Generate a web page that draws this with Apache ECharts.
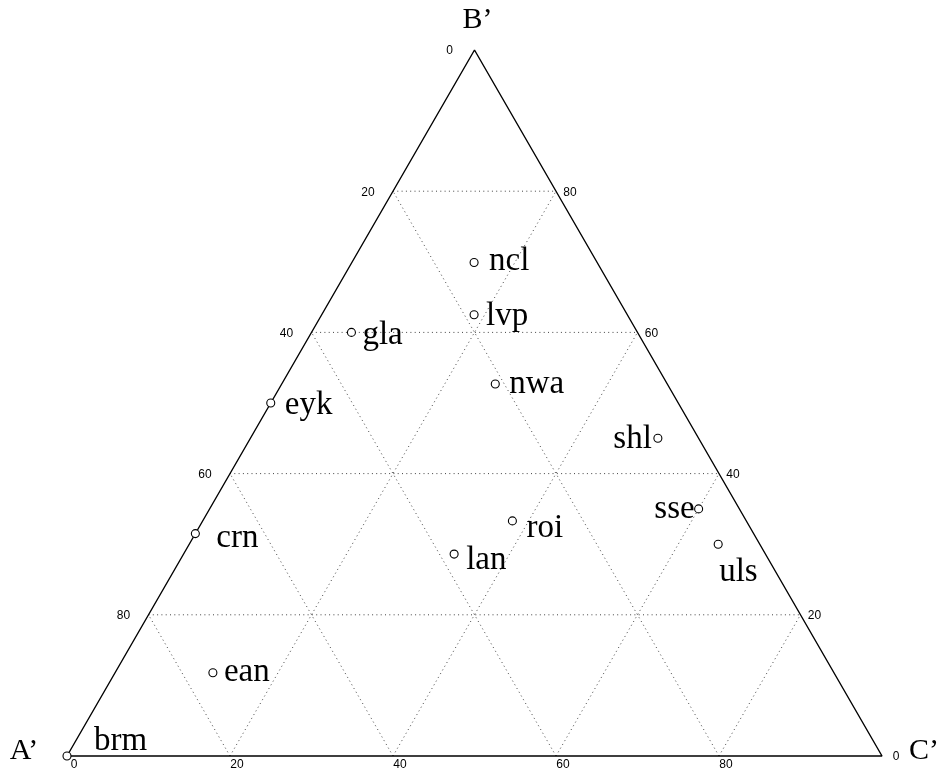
<!DOCTYPE html>
<html>
<head>
<meta charset="utf-8">
<script src="https://cdn.jsdelivr.net/npm/echarts@6/dist/echarts.min.js"></script>
<style>
  html, body { margin: 0; padding: 0; background: #fff; }
  #chart { width: 944px; height: 773px; }
</style>
</head>
<body>
<div id="chart"></div>
<script>
var sites = ['ncl', 'lvp', 'gla', 'nwa', 'eyk', 'shl', 'sse', 'roi', 'crn', 'uls', 'lan', 'ean', 'brm'];
var partA = [15.1, 18.8, 35.1, 21.1, 50.0, 5.0, 5.0, 28.7, 68.5, 5.1, 38.2, 76.2, 100];
var partB = [69.9, 62.5, 60.0, 52.7, 50.0, 45.0, 35.0, 33.3, 31.5, 30.0, 28.6, 11.8, 0];
var partC = [15.0, 18.7, 4.9, 26.2, 0.0, 50.0, 60.0, 38.0, 0.0, 64.9, 33.2, 12.0, 0];

var vertexNames = ['A\u2019', 'B\u2019', 'C\u2019'];
var tickValues = [0, 20, 40, 60, 80];
var gridLevels = [20, 40, 60, 80];

// ternary -> plane, A' bottom left, C' bottom right, B' top
function toXY(a, b, c) {
  var s = a + b + c;
  return [(c + b / 2) / s, b / s];
}

// where each site label sits, relative to its point
var labelPlace = {
  ncl: ['left', 15, -1],
  lvp: ['left', 12, 2],
  gla: ['left', 11, 3],
  nwa: ['left', 14, 0],
  eyk: ['left', 14, 2],
  shl: ['right', -6, 1],
  sse: ['right', -4, 0],
  roi: ['left', 14, 7],
  crn: ['left', 21, 5],
  uls: ['left', 1, 28],
  lan: ['left', 12, 6],
  ean: ['left', 11, 0],
  brm: ['left', 27, -15]
};

var serif = '"Liberation Serif", "DejaVu Serif", serif';
var sans = '"Liberation Sans", Arial, sans-serif';

var series = [];

// dotted grid
gridLevels.forEach(function (g) {
  var v = g / 100;
  var segs = [
    [toXY(1 - v, v, 0), toXY(0, v, 1 - v)],   // constant B
    [toXY(1 - v, 0, v), toXY(0, 1 - v, v)],   // constant C
    [toXY(v, 0, 1 - v), toXY(v, 1 - v, 0)]    // constant A
  ];
  segs.forEach(function (s) {
    series.push({
      type: 'line', data: s, symbol: 'none', silent: true, clip: false,
      lineStyle: { color: '#444', width: 1, type: [1, 3.3] },
      z: 1
    });
  });
});

// triangle outline
series.push({
  type: 'line',
  data: [toXY(100, 0, 0), toXY(0, 100, 0), toXY(0, 0, 100), toXY(100, 0, 0)],
  symbol: 'none', silent: true, clip: false,
  lineStyle: { color: '#000', width: 1.4 },
  z: 2
});

// tick labels on the three sides
var tickData = [];
tickValues.forEach(function (t) {
  var v = t / 100;
  tickData.push({ value: toXY(v, 1 - v, 0), label: { formatter: String(t), offset: [-25, 1] } });
  tickData.push({ value: toXY(0, v, 1 - v), label: { formatter: String(t), offset: [14, 1] } });
  tickData.push({ value: toXY(1 - v, 0, v), label: { formatter: String(t), offset: [7, 9] } });
});
series.push({
  type: 'scatter', data: tickData, symbolSize: 0, silent: true, clip: false,
  itemStyle: { opacity: 1 },
  label: {
    show: true, position: 'inside', align: 'center', verticalAlign: 'middle',
    fontFamily: sans, fontSize: 12, color: '#000'
  },
  z: 3
});

// vertex names
var vertexOffsets = [[-43, -5], [3, -30], [42, -5]];
series.push({
  type: 'scatter', symbolSize: 0, silent: true, clip: false,
  itemStyle: { opacity: 1 },
  data: vertexNames.map(function (n, i) {
    var p = [0, 0, 0];
    p[i] = 100;
    return { value: toXY(p[0], p[1], p[2]), label: { formatter: n, offset: vertexOffsets[i] } };
  }),
  label: {
    show: true, position: 'inside', align: 'center', verticalAlign: 'middle',
    fontFamily: serif, fontSize: 30, color: '#000'
  },
  z: 3
});

// sites
series.push({
  type: 'scatter', clip: false, silent: true,
  symbol: 'circle', symbolSize: 8,
  itemStyle: { color: '#fff', borderColor: '#000', borderWidth: 1.1, opacity: 1 },
  data: sites.map(function (s, i) {
    var pl = labelPlace[s];
    return {
      value: toXY(partA[i], partB[i], partC[i]),
      label: { formatter: s, align: pl[0], offset: [pl[1], pl[2]] }
    };
  }),
  label: {
    show: true, position: 'inside', verticalAlign: 'middle',
    fontFamily: serif, fontSize: 33, color: '#000'
  },
  z: 5
});

var chart = echarts.init(document.getElementById('chart'), null, { renderer: 'canvas' });
chart.setOption({
  animation: false,
  backgroundColor: '#fff',
  grid: { left: 67, right: 62, top: 50, bottom: 17, containLabel: false },
  xAxis: { type: 'value', min: 0, max: 1, show: false },
  yAxis: { type: 'value', min: 0, max: 1, show: false },
  series: series
});
</script>
</body>
</html>
